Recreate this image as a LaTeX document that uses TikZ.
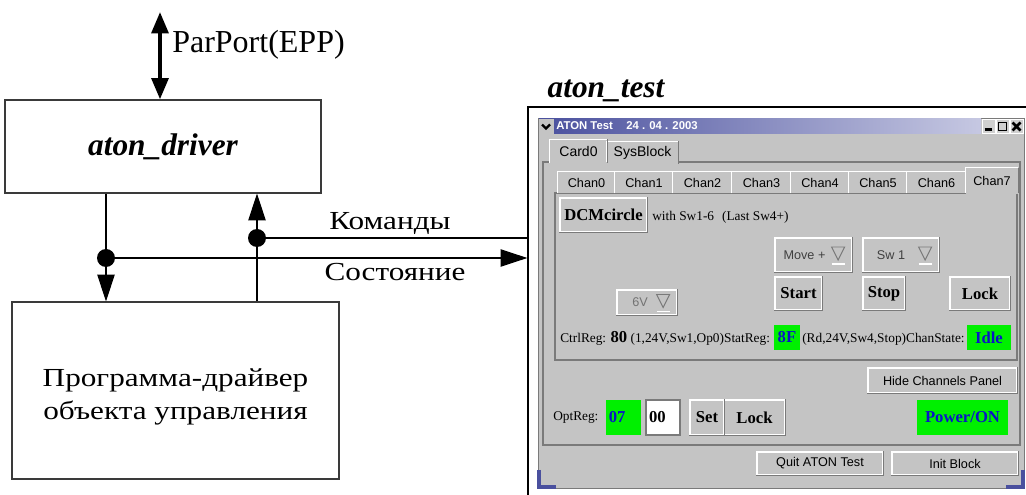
\documentclass[tikz,border=0pt]{standalone}
\usepackage{fontspec}
\setmainfont{Liberation Serif}
\newfontfamily\cyrfont[FakeStretch=1.2]{Liberation Serif}
\newfontfamily\guisans{Liberation Sans}
\usetikzlibrary{positioning,arrows.meta,calc}
\definecolor{cLine}{HTML}{3A3A3A}
\definecolor{cGui}{HTML}{C4C4C4}
\definecolor{cGuiDark}{HTML}{7A7A7A}
\definecolor{cGreen}{HTML}{00F000}
\definecolor{cBlueTxt}{HTML}{0A14C8}
\definecolor{cTitleL}{HTML}{4A509E}
\definecolor{cTitleR}{HTML}{C6C8E2}
\tikzset{
  wh/.style 2 args={minimum width=#1*0.75pt, minimum height=#2*0.75pt},
  blk/.style={draw=cLine, line width=0.9pt, inner sep=0pt, align=center},
  lbl/.style={font=\fontsize{24}{28}\selectfont, inner sep=0pt},
  cyr/.style={font=\cyrfont\fontsize{19.5}{25}\selectfont, inner sep=0pt},
  ar/.style={-{Triangle[length=20pt, width=13pt]}, line width=0.8pt},
  dot/.style={circle, fill=black, inner sep=0pt, minimum size=13.5pt},
  gbtn/.style={draw=white, fill=cGui, line width=0.9pt, inner sep=0pt},
  gshade/.style={cGuiDark, line width=0.9pt},
  gsans/.style={font=\guisans\fontsize{9.5}{11}\selectfont},
  gcombo/.style={font=\guisans\fontsize{9.5}{11}\selectfont},
  gbold/.style={font=\fontsize{12.5}{14}\selectfont\bfseries},
  gsmall/.style={font=\fontsize{10}{12}\selectfont, inner sep=0pt},
  greg/.style={fill=cGreen, inner sep=2pt, text=cBlueTxt, gbold},
}

\begin{document}
\begin{tikzpicture}[x=0.75pt, y=-0.75pt]
  \useasboundingbox (0,0) rectangle (1026,495);

  % --- left side: driver and program ---
  \node[blk, wh={316}{93}]  (drv)  at (163,146.5) {\fontsize{23.5}{28}\selectfont\bfseries\itshape aton\_driver};
  \node[blk, wh={327}{177}] (prog) at (175.5,390.5) {};
  \node[cyr, align=center] (progt) at (175.5,397) {Программа-драйвер\\объекта управления};
  \coordinate (pp) at (160,12);
  \draw[{Triangle[length=16pt, width=12.5pt]}-{Triangle[length=16pt, width=12.5pt]}, line width=3pt] (pp) -- (drv.north -| pp);
  \node[lbl, anchor=west] (ppl) at (172,45) {ParPort(EPP)};

  % --- screenshot frame ---
  \node[draw=black, line width=1pt, wh={512}{403}] (scr) at (784,308.5) {};
  \node[inner sep=0pt] (tst) at (606,91) {\fontsize{23.5}{28}\selectfont\bfseries\itshape aton\_test};

  % --- connectors ---
  \coordinate (jc) at (257,238);
  \coordinate (js) at (106,258);
  \draw[line width=0.8pt] (drv.south -| js) -- (js);
  \draw[ar] (js) -- (prog.north -| js);
  \draw[ar] (prog.north -| jc) -- (drv.south -| jc);
  \draw[line width=0.8pt] (jc) -- (scr.west |- jc);
  \draw[ar] (js) -- (scr.west |- js);
  \node[dot] (djc) at (jc) {};
  \node[dot] (djs) at (js) {};
  \node[cyr] (cmd) at (390,224) {Команды};
  \node[cyr] (sts) at (395,272) {Состояние};

  % --- window ---
  \node[fill=cGui, draw=cGuiDark, line width=0.6pt, wh={486}{370}] (win) at (781,303) {};
  \node[left color=cTitleL, right color=cTitleR, wh={442}{15}, inner sep=0pt] (ttl) at (760,126.5) {};
  \node[fill=cGui, wh={15}{15}, inner sep=0pt] (mnu) at (546,126.5) {};
  \draw[line width=1.6pt] ($(mnu)+(-4,-2)$) -- ($(mnu)+(0,2)$) -- ($(mnu)+(4,-2)$);
  \node[anchor=west, text=white, font=\guisans\bfseries\fontsize{8.5}{10}\selectfont, inner sep=0pt] (ttx) at (556,126)
    {ATON Test\hspace{10pt}24 . 04 . 2003};
  \foreach \n/\x in {bmin/988.5, bmax/1002.5, bcls/1016.5}
    \node[fill=cGui!80!white, draw=white, wh={13}{14}, inner sep=0pt] (\n) at (\x,126.5) {};
  \draw[line width=2pt] ($(bmin)+(-4,3)$) -- ($(bmin)+(3,3)$);
  \draw[line width=1.2pt] ($(bmax)+(-4,-4)$) rectangle ($(bmax)+(4,4)$);
  \draw[line width=2pt] ($(bcls)+(-4,-4)$) -- ($(bcls)+(4,4)$) ($(bcls)+(-4,4)$) -- ($(bcls)+(4,-4)$);
  \draw[cTitleL, line width=2.5pt] (539,470) -- (539,487) -- (556,487);
  \draw[cTitleL, line width=2.5pt] (1023,470) -- (1023,487) -- (1006,487);

  % --- card pane and tabs ---
  \node[fill=cGui, draw=cGuiDark, line width=0.8pt, wh={477}{283}] (pane) at (781.5,303.5) {};
  \node[fill=cGui, wh={71}{19}, gsans, font=\guisans\fontsize{10.5}{12}\selectfont] (tsys) at (642.5,152.5) {SysBlock};
  \node[fill=cGui, wh={57}{23}, gsans, font=\guisans\fontsize{10.5}{12}\selectfont] (tcard) at (578.5,151) {Card0};
  \foreach \t in {tsys,tcard} {
    \draw[white, line width=0.9pt] (\t.south west) -- (\t.north west) -- (\t.north east);
    \draw[gshade] (\t.north east) -- (\t.south east);
  }
  \draw[cGui, line width=1.2pt] (tcard.south west) -- (tcard.south east);

  % --- channel pane and tabs ---
  \node[fill=cGui, draw=cGuiDark, line width=0.8pt, wh={462}{167}] (chp) at (786,276.5) {};
  \foreach \i/\xa/\xb in {0/558/615, 1/615/673, 2/673/732, 3/732/791, 4/791/849, 5/849/907, 6/907/966} {
    \node[fill=cGui, gsans, inner sep=0pt, minimum width=(\xb-\xa)*0.75pt, minimum height=21*0.75pt]
      (chan\i) at ({(\xa+\xb)/2},182.5) {Chan\i};
    \draw[white, line width=0.9pt] (chan\i.south west) -- (chan\i.north west) -- (chan\i.north east);
    \draw[gshade] (chan\i.north east) -- (chan\i.south east);
  }
  \node[fill=cGui, gsans, wh={52}{25}, inner sep=0pt] (chan7) at (992,180.5) {Chan7};
  \draw[white, line width=0.9pt] (chan7.south west) -- (chan7.north west) -- (chan7.north east);
  \draw[gshade] (chan7.north east) -- (chan7.south east);
  \draw[cGui, line width=1.2pt] (chan7.south west) -- (chan7.south east);

  % --- channel controls ---
  \node[gbtn, wh={87}{34}, gbold] (dcm) at (603.5,215) {DCMcircle};
  \node[gsmall, anchor=west] (dcmt) at (652,217) {with Sw1-6\hspace{6pt}(Last Sw4+)};
  \node[gbtn, wh={77}{34}, gcombo, text=black!75] (move) at (813.5,255) {Move +\kern13.5pt};
  \node[gbtn, wh={76}{34}, gcombo, text=black!75] (sw)   at (901,255)   {Sw 1\kern15pt};
  \node[gbtn, wh={60}{25}, gcombo, text=black!55] (v6)   at (647,302.5) {6V\kern10.5pt};
  \foreach \c in {move,sw,v6} {
    \draw[cGuiDark, line width=0.7pt] ($(\c.east)+(-21,-8)$) -- ($(\c.east)+(-8,-8)$) -- ($(\c.east)+(-14.5,5)$) -- cycle;
    \draw[white, line width=0.9pt] ($(\c.east)+(-21,9)$) -- ($(\c.east)+(-8,9)$);
  }
  \node[gbtn, wh={47}{33}, gbold] (start) at (798.5,293.5) {Start};
  \node[gbtn, wh={42}{33}, gbold] (stop)  at (884,293.5)   {Stop};
  \node[gbtn, wh={60}{33}, gbold] (lockc) at (980,293.5)   {Lock};
  \node[gsmall, anchor=base west] (ctrl) at (560,343)
    {CtrlReg: {\fontsize{12.5}{14}\selectfont\bfseries 80} (1,24V,Sw1,Op0)StatReg:};
  \node[greg, wh={26}{25}] (r8f) at (787,337.5) {8F};
  \node[gsmall, anchor=base west] (stat) at (802,343) {(Rd,24V,Sw4,Stop)ChanState:};
  \node[greg, wh={44}{25}] (idle) at (989,337.5) {Idle};

  % --- lower controls ---
  \node[gbtn, wh={149}{25}, gsans] (hide) at (942.5,380.5) {Hide Channels Panel};
  \node[gsmall, anchor=west] (optl) at (553,418) {OptReg:};
  \node[greg, wh={35}{35}, align=left, text width=22pt] (r07) at (623.5,417.5) {07};
  \node[fill=white, draw=cGuiDark, line width=0.9pt, gbold, inner sep=2pt, wh={34}{35}, align=left, text width=21pt] (r00) at (663,417.5) {00};
  \node[gbtn, wh={34}{35}, gbold] (set)   at (707,417.5)   {Set};
  \node[gbtn, wh={61}{35}, gbold] (lockb) at (754.5,417.5) {Lock};
  \node[greg, wh={91}{35}] (pwr) at (962.5,417.5) {Power/ON};
  \node[gbtn, wh={126}{23}, gsans] (quit) at (820,463.5) {Quit ATON Test};
  \node[gbtn, wh={126}{23}, gsans] (init) at (955,463.5) {Init Block};

  \foreach \b in {dcm,move,sw,v6,start,stop,lockc,hide,set,lockb,quit,init}
    \draw[gshade] (\b.south west) -- (\b.south east) -- (\b.north east);
\end{tikzpicture}
\end{document}
